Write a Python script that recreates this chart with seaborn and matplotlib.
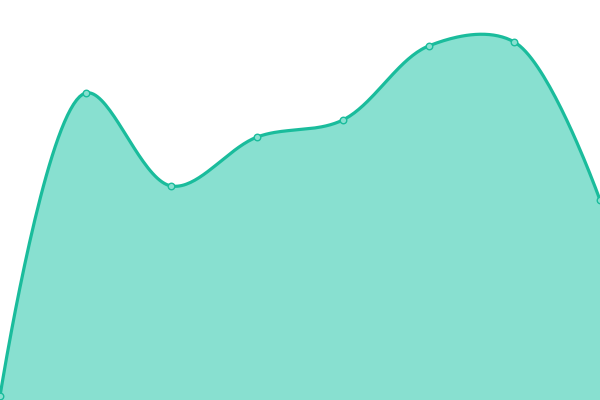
import numpy as np
import pandas as pd
import seaborn as sns
import matplotlib
matplotlib.use("Agg")
import matplotlib.pyplot as plt

# data
x_pos = [0, 1, 2, 3, 4, 5, 6, 7]
values = [4, 307, 214, 263, 280, 354, 358, 200]

line_col = '#1abc9c'
fill_col = '#88e0d0'

W, H = 600, 400
x_max, y_max = 7, 400


def catmull_rom(xs, ys, alpha=0.5, n=40):
    # centripetal catmull-rom (bezier form), worked out in pixel units
    sx = W / x_max
    sy = H / y_max
    P = np.column_stack([np.asarray(xs, float) * sx, np.asarray(ys, float) * sy])
    k = len(P)
    seg_len = [np.hypot(*(P[i + 1] - P[i])) for i in range(k - 1)]
    out = [P[0]]
    t = np.linspace(0, 1, n)[1:, None]
    for i in range(k - 1):
        p1, p2 = P[i], P[i + 1]
        l12 = seg_len[i] ** alpha
        c1 = p1.copy()
        c2 = p2.copy()
        if i > 0:
            p0 = P[i - 1]
            l01 = seg_len[i - 1] ** alpha
            a = 2 * l01**2 + 3 * l01 * l12 + l12**2
            nn = 3 * l01 * (l01 + l12)
            c1 = (p1 * a - p0 * l12**2 + p2 * l01**2) / nn
        if i < k - 2:
            p3 = P[i + 2]
            l23 = seg_len[i + 1] ** alpha
            b = 2 * l23**2 + 3 * l23 * l12 + l12**2
            m = 3 * l23 * (l23 + l12)
            c2 = (p2 * b + p1 * l23**2 - p3 * l12**2) / m
        pts = ((1 - t)**3 * p1 + 3 * (1 - t)**2 * t * c1
               + 3 * (1 - t) * t**2 * c2 + t**3 * p2)
        out.extend(pts)
    out = np.array(out)
    return out[:, 0] / sx, out[:, 1] / sy


cx, cy = catmull_rom(x_pos, values)
curve = pd.DataFrame({'x': cx, 'y': cy})
pts = pd.DataFrame({'x': x_pos, 'y': values})

sns.set_style('white')
fig = plt.figure(figsize=(6, 4), dpi=100)
ax = fig.add_axes([0, 0, 1, 1])

ax.fill_between(cx, cy, 0, color=fill_col, linewidth=0)
sns.lineplot(data=curve, x='x', y='y', ax=ax, color=line_col, linewidth=2.3, sort=False)
sns.scatterplot(data=pts, x='x', y='y', ax=ax, s=22, color=fill_col,
                edgecolor=line_col, linewidth=1, zorder=5)

ax.set_xlim(0, x_max)
ax.set_ylim(0, y_max)
ax.axis('off')

plt.savefig('out.png', dpi=100)
